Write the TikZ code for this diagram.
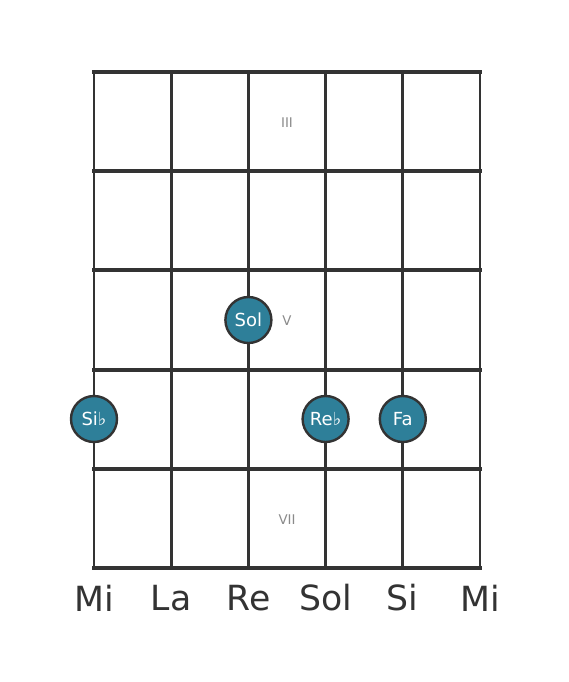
\documentclass[tikz,border=0pt]{standalone}
\usepackage{fontspec}
\setmainfont{DejaVu Sans}
\usepackage{tikz}
\usetikzlibrary{positioning}
\definecolor{gridgray}{HTML}{333333}
\definecolor{noteteal}{HTML}{2E7F99}
\definecolor{fretlabel}{HTML}{8A8A8A}

\begin{document}
\begin{tikzpicture}[x=0.75pt, y=-0.75pt,
        fret line/.style={draw=gridgray, line width=3pt},
        string line/.style={draw=gridgray, line width=2.2pt},
        note dot/.style={circle, draw=gridgray, line width=1.8pt, fill=noteteal,
            minimum size=34.5pt, inner sep=0pt, text=white, font=\fontsize{13.5}{15}\selectfont},
        fret num/.style={text=fretlabel, font=\fontsize{10}{12}\selectfont},
        string name/.style={text=gridgray, font=\fontsize{26}{30}\selectfont}]
        \useasboundingbox (0,0) rectangle (568,682);

        % strings
        \foreach \x in {94,171.2,248.4,325.6,402.8,480}
            \draw[string line] (\x,72) -- (\x,568);
        % frets
        \foreach \y in {72,171.2,270.4,369.6,468.8,568}
            \draw[fret line, line cap=rect] (94,\y) -- (480,\y);

        \node[fret num] (three) at (287,123) {III};
        \node[fret num] (five) at (287,321) {V};
        \node[fret num] (seven) at (287,520) {VII};

        \node[note dot] (sol) at (248.4,320) {Sol};
        \node[note dot] (sib) at (94,419) {Si♭};
        \node[note dot] (reb) at (325.6,419) {Re♭};
        \node[note dot] (fa) at (402.8,419) {Fa};

        \node[string name] (mi low) at (94,598) {Mi};
        \node[string name] (la) at (171.2,598) {La};
        \node[string name] (re) at (248.4,598) {Re};
        \node[string name] (sol name) at (325.6,598) {Sol};
        \node[string name] (si) at (402.8,598) {Si};
        \node[string name] (mi high) at (480,598) {Mi};
    \end{tikzpicture}
\end{document}
